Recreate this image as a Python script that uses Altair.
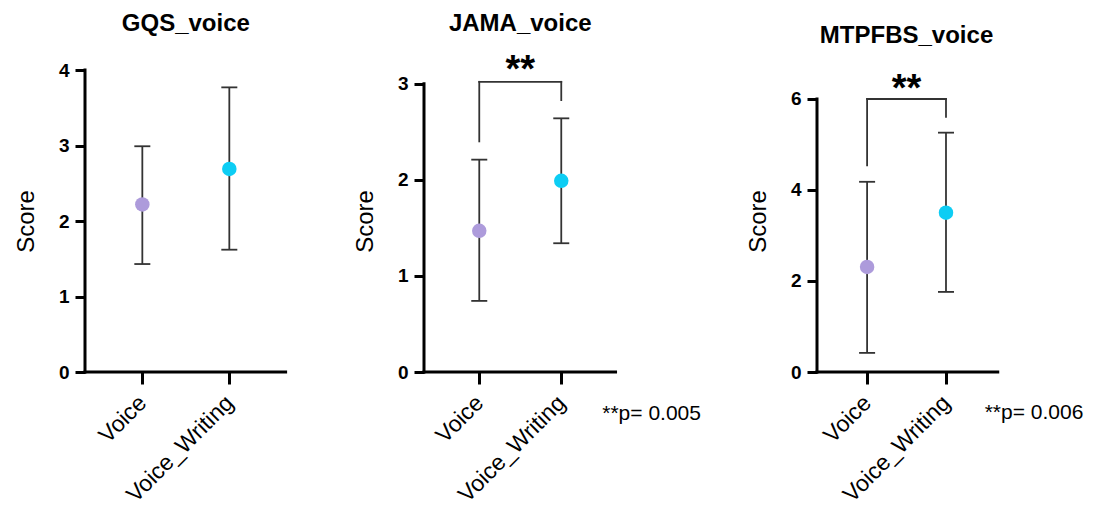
import altair as alt
import pandas as pd

groups = ["Voice", "Voice_Writing"]
colors = ["#ad9bdb", "#0dcdf4"]

gqs_mean = [2.22, 2.69]
gqs_lo = [1.43, 1.62]
gqs_hi = [2.99, 3.77]

jama_mean = [1.47, 1.99]
jama_lo = [0.74, 1.34]
jama_hi = [2.21, 2.64]

mtp_mean = [2.31, 3.50]
mtp_lo = [0.42, 1.76]
mtp_hi = [4.18, 5.26]

titles = ["GQS_voice", "JAMA_voice", "MTPFBS_voice"]
pvals = [None, "**p= 0.005", "**p= 0.006"]
y_ticks = [[0, 1, 2, 3, 4], [0, 1, 2, 3], [0, 2, 4, 6]]

FONT = "Liberation Sans"
LINE = "#333333"


def panel(title, mean, lo, hi, ticks, ymax, xdom, axis_end, width,
          title_y, bracket=None, stars_y=None, pval=None, pval_xy=None):
    df = pd.DataFrame({"group": groups, "x": [1, 2], "mean": mean,
                       "lo": lo, "hi": hi})
    xscale = alt.Scale(domain=xdom, nice=False, zero=False)
    yscale = alt.Scale(domain=[0, ymax], nice=False, zero=False)
    label_expr = f"datum.value == 1 ? '{groups[0]}' : '{groups[1]}'"
    xaxis = alt.Axis(values=[1, 2], labelExpr=label_expr, labelAngle=-45,
                     labelAlign="right", labelBaseline="middle",
                     domain=False, grid=False, title=None, tickSize=12,
                     tickWidth=3, tickColor="black", labelFont=FONT,
                     labelFontSize=23, labelColor="black", labelPadding=15)
    yaxis = alt.Axis(values=ticks, format="d", domain=False, grid=False,
                     title="Score", titleFont=FONT, titleFontSize=24,
                     titleFontWeight="normal", titleColor="black",
                     labelFont=FONT, labelFontSize=19, labelFontWeight="bold",
                     labelColor="black", tickSize=10, tickWidth=3,
                     tickColor="black", labelPadding=6, titlePadding=20)
    X = alt.X("x:Q", scale=xscale, axis=xaxis)

    def Y(f):
        return alt.Y(f, scale=yscale, axis=yaxis, title="Score")

    base = alt.Chart(df)
    one = alt.Chart(pd.DataFrame({"k": [0]}))

    bars = base.mark_rule(color=LINE, strokeWidth=1.8).encode(
        x=X, y=Y("lo:Q"), y2="hi:Q")
    cap_hi = base.mark_tick(orient="horizontal", size=16, thickness=1.8,
                            color=LINE, opacity=1).encode(x=X, y=Y("hi:Q"))
    cap_lo = base.mark_tick(orient="horizontal", size=16, thickness=1.8,
                            color=LINE, opacity=1).encode(x=X, y=Y("lo:Q"))
    pts = base.mark_circle(size=210, opacity=1).encode(
        x=X, y=Y("mean:Q"),
        color=alt.Color("group:N", scale=alt.Scale(domain=groups, range=colors),
                        legend=None))
    yline = one.mark_rule(color="black", strokeWidth=3, strokeCap="square").encode(
        x=alt.datum(xdom[0]), y=alt.datum(0), y2=alt.datum(ticks[-1]))
    xline = one.mark_rule(color="black", strokeWidth=3, strokeCap="square").encode(
        x=alt.datum(xdom[0]), x2=alt.datum(axis_end), y=alt.datum(0))
    ttl = one.mark_text(font=FONT, fontSize=24, fontWeight="bold", color="black",
                        align="center", baseline="alphabetic").encode(
        x=alt.datum(1.5), y=alt.datum(title_y), text=alt.value(title))
    layers = [bars, cap_hi, cap_lo, pts, yline, xline, ttl]
    if bracket is not None:
        top, left_b, right_b = bracket
        bdf = pd.DataFrame({"x1": [1, 1, 2], "x2": [1, 2, 2],
                            "y1": [left_b, top, right_b], "y2": [top, top, top]})
        br = alt.Chart(bdf).mark_rule(color=LINE, strokeWidth=1.8,
                                      strokeCap="square").encode(
            x=alt.X("x1:Q", scale=xscale, axis=xaxis), x2="x2:Q",
            y=Y("y1:Q"), y2="y2:Q")
        stars = one.mark_text(font=FONT, fontSize=38, fontWeight="bold",
                              color="black", align="center",
                              baseline="alphabetic").encode(
            x=alt.datum(1.5), y=alt.datum(stars_y), text=alt.value("**"))
        layers += [br, stars]
    if pval is not None:
        pt = one.mark_text(font=FONT, fontSize=21, color="black", align="left",
                           baseline="alphabetic").encode(
            x=alt.datum(pval_xy[0]), y=alt.datum(pval_xy[1]), text=alt.value(pval))
        layers.append(pt)
    return alt.layer(*layers).properties(width=width, height=302)


p1 = panel(titles[0], gqs_mean, gqs_lo, gqs_hi, y_ticks[0], 4.0,
           [0.341, 4.008], 2.647, 319, 4.52)
p2 = panel(titles[1], jama_mean, jama_lo, jama_hi, y_ticks[1], 3.143,
           [0.326, 4.875], 2.662, 373, 3.55, bracket=(3.02, 2.40, 2.83),
           stars_y=3.015, pval=pvals[1], pval_xy=(2.50, -0.496))
p3 = panel(titles[2], mtp_mean, mtp_lo, mtp_hi, y_ticks[2], 6.637,
           [0.365, 2.9], 2.656, 200, 7.22, bracket=(6.0, 4.54, 5.61),
           stars_y=5.95, pval=pvals[2], pval_xy=(2.49, -1.03))

chart = alt.ConcatChart(concat=[p1, p2, p3], columns=3, align="none",
                        bounds="flush", spacing=20).properties(
    padding={"left": 6, "top": 3, "right": 0, "bottom": 0},
    background="white"
).configure_view(stroke=None)

chart.save("out.html", embed_options={"renderer": "svg", "actions": False})
